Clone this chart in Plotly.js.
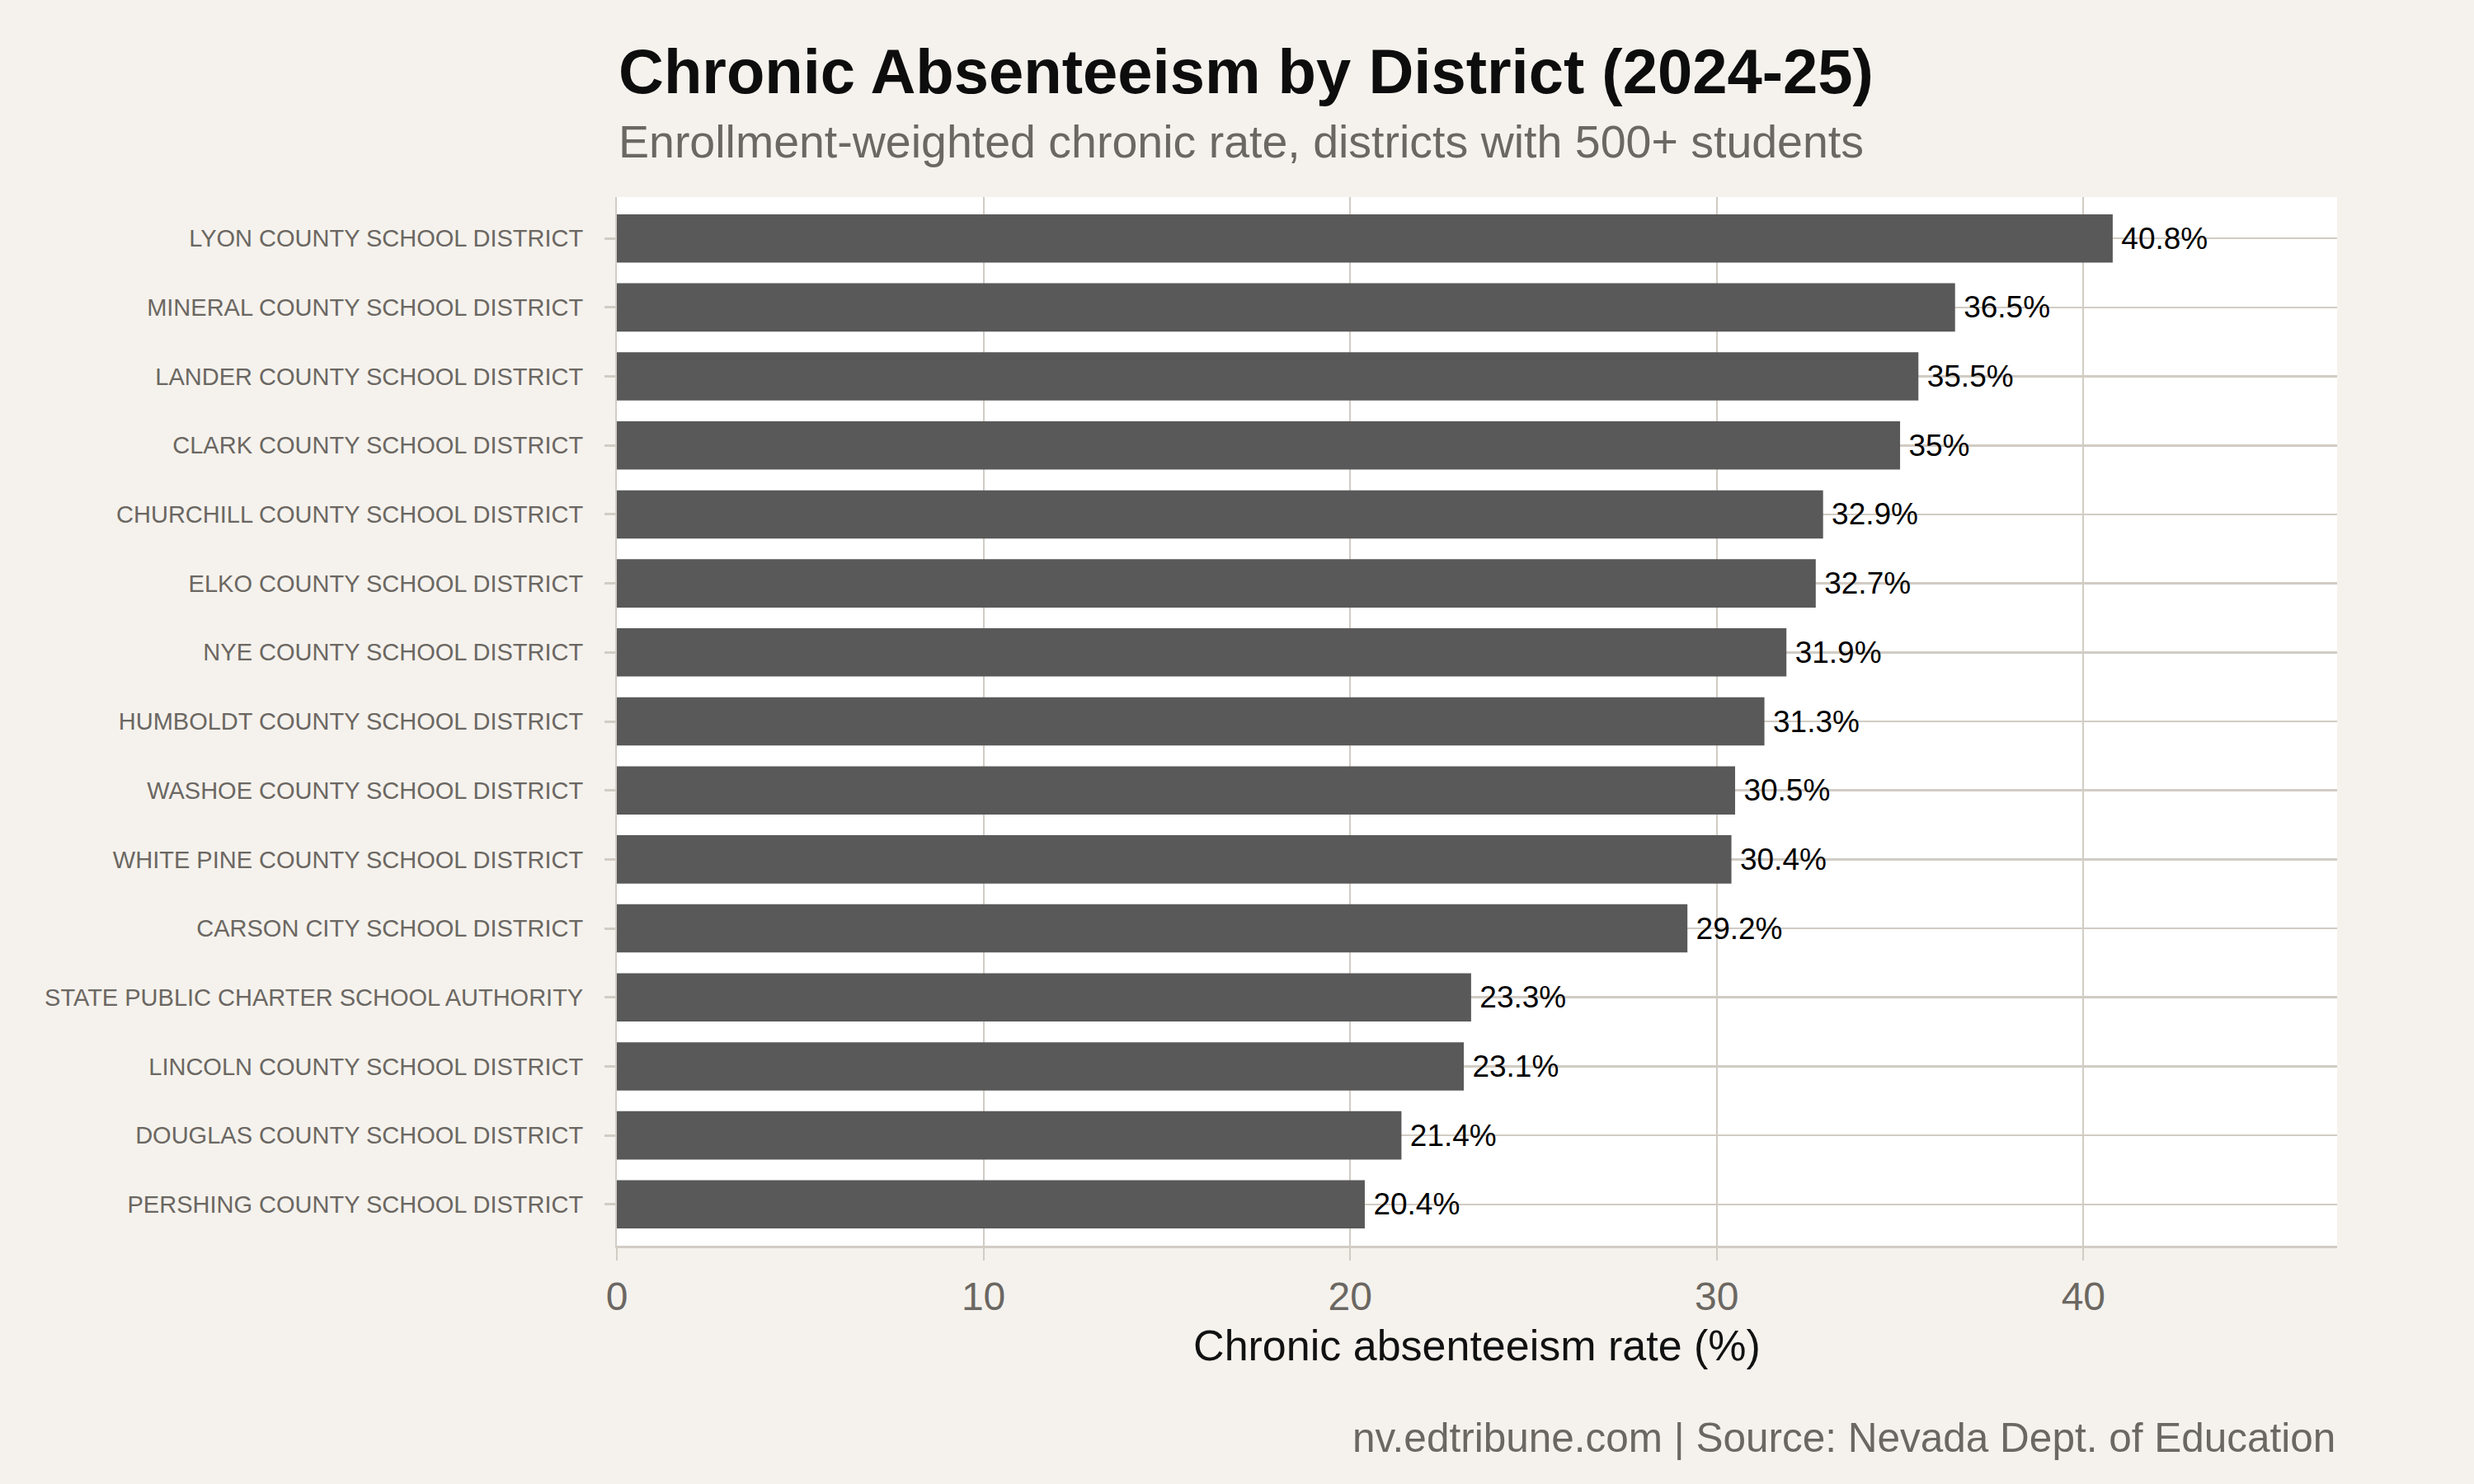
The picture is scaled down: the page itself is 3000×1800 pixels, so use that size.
<!DOCTYPE html>
<html>
<head>
<meta charset="utf-8">
<script src="https://cdn.plot.ly/plotly-3.0.1.min.js"></script>
<style>
  html, body { margin: 0; padding: 0; background: #f5f2ed; }
  #graph { width: 3000px; height: 1800px; }
</style>
</head>
<body>
<div id="graph"></div>
<script>
// districts, top to bottom as shown in the chart
var districts = [
  'LYON COUNTY SCHOOL DISTRICT',
  'MINERAL COUNTY SCHOOL DISTRICT',
  'LANDER COUNTY SCHOOL DISTRICT',
  'CLARK COUNTY SCHOOL DISTRICT',
  'CHURCHILL COUNTY SCHOOL DISTRICT',
  'ELKO COUNTY SCHOOL DISTRICT',
  'NYE COUNTY SCHOOL DISTRICT',
  'HUMBOLDT COUNTY SCHOOL DISTRICT',
  'WASHOE COUNTY SCHOOL DISTRICT',
  'WHITE PINE COUNTY SCHOOL DISTRICT',
  'CARSON CITY SCHOOL DISTRICT',
  'STATE PUBLIC CHARTER SCHOOL AUTHORITY',
  'LINCOLN COUNTY SCHOOL DISTRICT',
  'DOUGLAS COUNTY SCHOOL DISTRICT',
  'PERSHING COUNTY SCHOOL DISTRICT'
];

// chronic absenteeism rate (%)
var chronicRate = [40.8, 36.5, 35.5, 35, 32.9, 32.7, 31.9, 31.3, 30.5, 30.4, 29.2, 23.3, 23.1, 21.4, 20.4];

var xTicks = [0, 10, 20, 30, 40];

var FONT = '"Liberation Sans", Helvetica, Arial, sans-serif';
var GRID = '#d1ccc4';
var MUTED = '#6b6762';

function plot(){
    var trace = {
        type: 'bar',
        orientation: 'h',
        x: chronicRate,
        y: districts,
        width: 0.7,
        marker: {color: '#595959'},
        // thin space keeps the label a little off the bar end
        text: chronicRate.map(function(v){ return '\u2009' + v + '%'; }),
        textposition: 'outside',
        textfont: {family: FONT, size: 37, color: '#000000'},
        constraintext: 'none',
        cliponaxis: false,
        hoverinfo: 'x+y'
    };

    var layout = {
        width: 3000,
        height: 1800,
        paper_bgcolor: '#f5f2ed',
        plot_bgcolor: '#ffffff',
        margin: {l: 748, r: 166, t: 239, b: 289, pad: 0},
        showlegend: false,
        font: {family: FONT, color: MUTED},
        bargap: 0.3,
        xaxis: {
            range: [0, 46.92],
            tickvals: xTicks,
            ticktext: xTicks.map(String),
            tickfont: {family: FONT, size: 48, color: MUTED},
            ticks: 'outside',
            ticklen: 15,
            tickwidth: 2,
            tickcolor: GRID,
            ticklabelstandoff: 2,
            showgrid: true,
            gridcolor: GRID,
            gridwidth: 2,
            showline: true,
            linecolor: GRID,
            linewidth: 3,
            zeroline: false,
            title: {
                text: 'Chronic absenteeism rate (%)',
                font: {family: FONT, size: 52, color: '#111111'},
                standoff: 17
            }
        },
        yaxis: {
            type: 'category',
            range: [14.6, -0.6],
            tickfont: {family: FONT, size: 29, color: MUTED},
            ticks: 'outside',
            ticklen: 13,
            tickwidth: 3,
            tickcolor: GRID,
            ticklabelstandoff: 20,
            showgrid: true,
            gridcolor: GRID,
            gridwidth: 2.5,
            showline: true,
            linecolor: GRID,
            linewidth: 2,
            zeroline: false
        },
        annotations: [
            {
                text: '<b>Chronic Absenteeism by District (2024-25)</b>',
                xref: 'paper', yref: 'paper', x: 0, y: 1.0849,
                xanchor: 'left', yanchor: 'bottom', showarrow: false,
                font: {family: FONT, size: 76, color: '#0d0d0d'}
            },
            {
                text: 'Enrollment-weighted chronic rate, districts with 500+ students',
                xref: 'paper', yref: 'paper', x: 0, y: 1.0267,
                xanchor: 'left', yanchor: 'bottom', showarrow: false,
                font: {family: FONT, size: 55.5, color: MUTED}
            },
            {
                text: 'nv.edtribune.com | Source: Nevada Dept. of Education',
                xref: 'paper', yref: 'paper', x: 1, y: -0.206,
                xanchor: 'right', yanchor: 'bottom', showarrow: false,
                font: {family: FONT, size: 49.5, color: MUTED}
            }
        ]
    };

    Plotly.newPlot('graph', [trace], layout, {staticPlot: true, displayModeBar: false});
}

plot();
</script>
</body>
</html>
